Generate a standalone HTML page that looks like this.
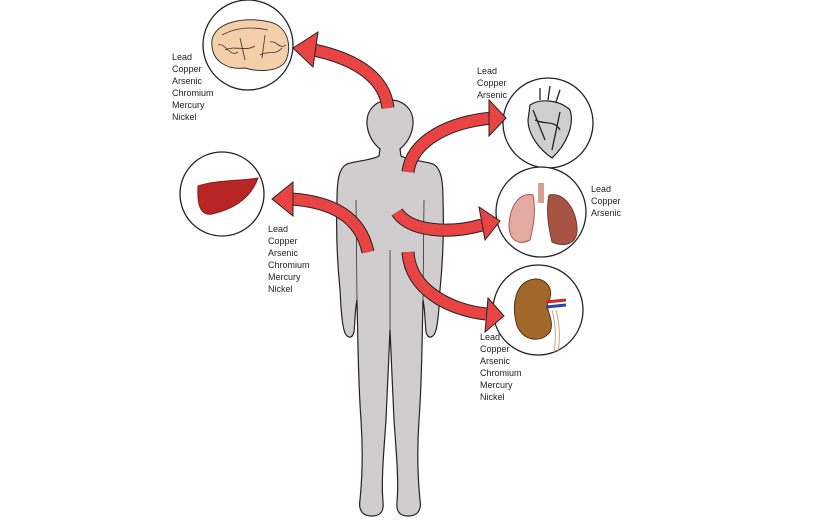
<!DOCTYPE html>
<html><head><meta charset="utf-8"><style>
html,body{margin:0;padding:0;background:#fff}
svg{display:block}
text{font-family:"Liberation Sans",sans-serif;font-size:9px;fill:#222}
</style></head><body>
<svg width="822" height="522" viewBox="0 0 822 522" xmlns="http://www.w3.org/2000/svg">
<!-- body -->
<path d="M390,100 C376,100 366,110 367,124 C368,136 374,144 380,149 L379,156 C372,160 356,161 347,164 C339,168 337,180 337,200 C336,230 337,260 340,290 C341,305 341,318 344,330 C346,338 352,340 354,332 C355,322 355,310 357,300 C358,340 358,380 361,420 C363,450 362,480 360,500 C358,512 364,516 372,516 C380,516 384,512 383,502 C381,480 384,450 386,420 C388,380 389,350 390,330 C391,350 392,380 394,420 C396,450 399,480 397,502 C396,512 400,516 408,516 C416,516 422,512 420,500 C418,480 417,450 419,420 C422,380 422,340 423,300 C425,310 425,322 426,332 C428,340 434,338 436,330 C439,318 439,305 440,290 C443,260 444,230 443,200 C443,180 441,168 433,164 C424,161 408,160 401,156 L400,149 C406,144 412,136 413,124 C414,110 404,100 390,100 Z" fill="#cfcdcd" stroke="#222" stroke-width="1.2"/>
<path d="M357,300 L356,200 M423,300 L424,200 M390,330 L390,250" stroke="#333" stroke-width="0.8" fill="none"/>
<!-- circles -->
<g fill="#fff" stroke="#222" stroke-width="1.3">
<circle cx="248" cy="45" r="45"/>
<circle cx="548" cy="123" r="45"/>
<circle cx="222" cy="194" r="42"/>
<circle cx="541" cy="212" r="45"/>
<circle cx="538" cy="310" r="45"/>
</g>
<!-- brain -->
<path d="M212,40 C215,22 245,16 270,22 C290,27 292,50 285,62 C278,72 258,72 245,68 C228,70 210,62 212,40 Z" fill="#f5cfa8" stroke="#333" stroke-width="1"/>
<path d="M222,35 C235,28 250,26 268,30 M225,50 C235,45 245,52 255,46 M260,55 C268,50 275,56 282,48 M240,38 L245,60 M265,35 L262,58 M218,45 C225,42 230,58 238,52 M270,42 C276,40 280,50 286,45" stroke="#333" stroke-width="0.8" fill="none"/>
<!-- heart -->
<path d="M530,105 C540,98 560,100 570,110 C575,125 566,145 552,158 C540,150 528,135 528,120 Z" fill="#cfcfcf" stroke="#222" stroke-width="1.2"/>
<path d="M540,100 L540,88 M548,100 L550,86 M556,102 L560,90 M535,120 C545,125 555,120 560,130 M533,110 L545,140 M560,112 L552,150" stroke="#222" stroke-width="1.3" fill="none"/>
<!-- liver -->
<path d="M198,186 C215,180 240,181 258,178 C252,195 238,208 212,214 C200,216 197,204 198,186 Z" fill="#b82525" stroke="#8a1a1a" stroke-width="1"/>
<!-- lungs -->
<rect x="538" y="183" width="6" height="20" fill="#d9a090"/>
<path d="M533,195 C520,192 510,205 509,225 C509,240 518,246 530,240 C534,225 536,210 533,195 Z" fill="#e2aaa0" stroke="#a55" stroke-width="1"/>
<path d="M549,195 C565,192 576,210 577,228 C578,243 566,248 552,242 C548,225 546,210 549,195 Z" fill="#a85444" stroke="#733" stroke-width="1"/>
<!-- kidney -->
<path d="M530,280 C545,275 556,290 548,302 C545,310 555,320 550,332 C540,345 520,340 516,322 C512,305 515,285 530,280 Z" fill="#a0692a" stroke="#5a3210" stroke-width="1"/>
<path d="M546,302 L566,300" stroke="#d22" stroke-width="3"/>
<path d="M546,307 L566,305" stroke="#2346b0" stroke-width="3"/>
<path d="M552,310 C556,325 556,340 554,352 M556,310 C560,325 560,340 558,352" stroke="#c9a77a" stroke-width="1" fill="none"/>
<!-- arrows -->
<g fill="none" stroke-linecap="butt">
<g stroke="#222" stroke-width="13">
<path d="M388,108 C385,80 360,60 314,50"/>
<path d="M408,172 C412,140 450,122 492,118"/>
<path d="M368,252 C360,215 330,202 292,199"/>
<path d="M397,212 C410,232 450,234 482,225"/>
<path d="M408,252 C410,290 450,310 486,314"/>
</g>
<g stroke="#e84444" stroke-width="11">
<path d="M388,108 C385,80 360,60 314,50"/>
<path d="M408,172 C412,140 450,122 492,118"/>
<path d="M368,252 C360,215 330,202 292,199"/>
<path d="M397,212 C410,232 450,234 482,225"/>
<path d="M408,252 C410,290 450,310 486,314"/>
</g>
</g>
<g fill="#e84444" stroke="#222" stroke-width="1">
<polygon points="293,48 318,32 313,67"/>
<polygon points="506,118 489,100 489,136"/>
<polygon points="272,199 293,182 293,216"/>
<polygon points="500,221 479,207 485,240"/>
<polygon points="504,316 488,298 485,332"/>
</g>
<!-- labels -->
<text x="172" y="60">Lead</text><text x="172" y="72">Copper</text><text x="172" y="84">Arsenic</text><text x="172" y="96">Chromium</text><text x="172" y="108">Mercury</text><text x="172" y="120">Nickel</text>
<text x="477" y="74">Lead</text><text x="477" y="86">Copper</text><text x="477" y="98">Arsenic</text>
<text x="268" y="232">Lead</text><text x="268" y="244">Copper</text><text x="268" y="256">Arsenic</text><text x="268" y="268">Chromium</text><text x="268" y="280">Mercury</text><text x="268" y="292">Nickel</text>
<text x="591" y="192">Lead</text><text x="591" y="204">Copper</text><text x="591" y="216">Arsenic</text>
<text x="480" y="340">Lead</text><text x="480" y="352">Copper</text><text x="480" y="364">Arsenic</text><text x="480" y="376">Chromium</text><text x="480" y="388">Mercury</text><text x="480" y="400">Nickel</text>
</svg>
</body></html>
